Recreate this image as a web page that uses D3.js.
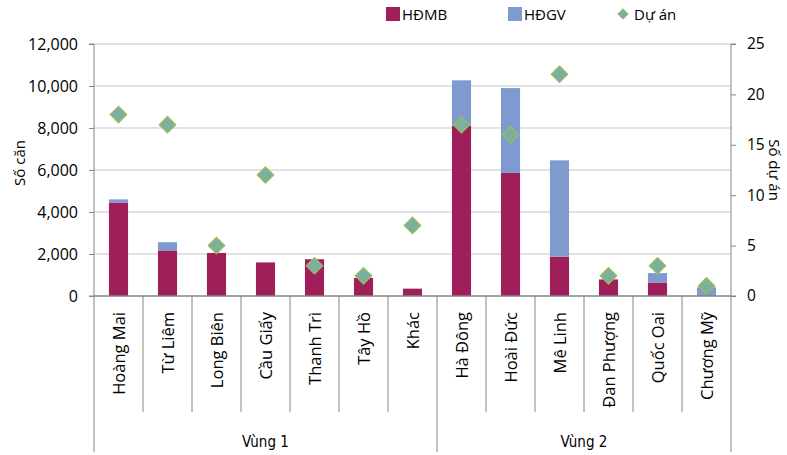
<!DOCTYPE html>
<html>
<head>
<meta charset="utf-8">
<script src="https://cdn.jsdelivr.net/npm/d3@7"></script>
<style>
  body { margin: 0; background: #fff; }
  svg { display: block; font-family: "Open Sans", "Noto Sans", sans-serif; }
</style>
</head>
<body>
<div class="container"></div>
<script>
// data
const districts = ["Hoàng Mai", "Từ Liêm", "Long Biên", "Cầu Giấy", "Thanh Trì", "Tây Hồ", "Khác",
                   "Hà Đông", "Hoài Đức", "Mê Linh", "Đan Phượng", "Quốc Oai", "Chương Mỹ"];
const hdmb = [4450, 2170, 2050, 1600, 1750, 860, 350, 8110, 5860, 1870, 790, 640, 0];
const hdgv = [150, 390, 0, 0, 0, 0, 0, 2160, 4040, 4590, 0, 450, 410];
const duAn = [18, 17, 5, 12, 3, 2, 7, 17, 16, 22, 2, 3, 1];
const regions = [{ name: "Vùng 1", from: 0, to: 6 }, { name: "Vùng 2", from: 7, to: 12 }];
const leftTicks = [0, 2000, 4000, 6000, 8000, 10000, 12000];
const rightTicks = [0, 5, 10, 15, 20, 25];

const w = 787, h = 455;
const padL = 94, padR = 731, padT = 44, padB = 296;
const colMB = "#9E1F5A", colGV = "#7F9ACE", colDiaFill = "#7BAFA0", colDiaStroke = "#9BBB59";
const axisCol = "#868686";

const svg = d3.select(".container").append("svg")
  .attr("width", w).attr("height", h);

const x = d3.scaleBand().domain(districts).range([padL, padR]).padding(0);
const yL = d3.scaleLinear().domain([0, 12000]).range([padB, padT]);
const yR = d3.scaleLinear().domain([0, 25]).range([padB, padT]);
const barW = x.bandwidth() * 0.39;

// gridlines
svg.append("g").selectAll("line").data(leftTicks.slice(1)).enter().append("line")
  .attr("x1", padL).attr("x2", padR)
  .attr("y1", d => yL(d)).attr("y2", d => yL(d))
  .attr("stroke", "#D9D9D9").attr("stroke-width", 1.3);

// left axis
const gL = svg.append("g").attr("transform", `translate(${padL},0)`)
  .call(d3.axisLeft(yL).tickValues(leftTicks).tickFormat(d3.format(",")).tickSize(5).tickPadding(11));
gL.select(".domain").attr("stroke", axisCol).attr("d", `M-5,${padT}H0V${padB}H-5`);
gL.selectAll(".tick line").attr("stroke", axisCol);
gL.selectAll(".tick text").attr("font-size", 16).attr("fill", "#000").attr("font-family", "Open Sans, sans-serif");

// right axis
const gR = svg.append("g").attr("transform", `translate(${padR},0)`)
  .call(d3.axisRight(yR).tickValues(rightTicks).tickSize(5).tickPadding(11));
gR.select(".domain").attr("stroke", axisCol).attr("d", `M5,${padT}H0V${padB}H5`);
gR.selectAll(".tick line").attr("stroke", axisCol);
gR.selectAll(".tick text").attr("font-size", 15.5).attr("fill", "#000").attr("font-family", "Open Sans, sans-serif");

// bars
const bars = svg.append("g");
bars.selectAll("rect.mb").data(districts).enter().append("rect")
  .attr("class", "mb")
  .attr("x", d => x(d) + (x.bandwidth() - barW) / 2)
  .attr("width", barW)
  .attr("y", (d, i) => yL(hdmb[i]))
  .attr("height", (d, i) => yL(0) - yL(hdmb[i]))
  .attr("fill", colMB);
bars.selectAll("rect.gv").data(districts).enter().append("rect")
  .attr("class", "gv")
  .attr("x", d => x(d) + (x.bandwidth() - barW) / 2)
  .attr("width", barW)
  .attr("y", (d, i) => yL(hdmb[i] + hdgv[i]))
  .attr("height", (d, i) => yL(hdmb[i]) - yL(hdmb[i] + hdgv[i]))
  .attr("fill", colGV);

// x axis line + category separators
const sep = d3.range(districts.length + 1).map(i => padL + i * x.step());
svg.append("line").attr("x1", padL).attr("x2", padR).attr("y1", padB).attr("y2", padB)
  .attr("stroke", axisCol).attr("stroke-width", 1.3);
const longSep = [0, 7, 13];
svg.append("g").selectAll("line").data(sep).enter().append("line")
  .attr("x1", d => d).attr("x2", d => d)
  .attr("y1", padB)
  .attr("y2", (d, i) => longSep.includes(i) ? 452 : 412)
  .attr("stroke", axisCol).attr("stroke-width", 1);

// diamonds
const dia = d3.symbol().type(d3.symbolDiamond2).size(170);
svg.append("g").selectAll("path").data(districts).enter().append("path")
  .attr("d", dia)
  .attr("transform", (d, i) => `translate(${x(d) + x.bandwidth() / 2},${yR(duAn[i])})`)
  .attr("fill", colDiaFill).attr("stroke", colDiaStroke).attr("stroke-width", 1.3);

// category labels
svg.append("g").selectAll("text").data(districts).enter().append("text")
  .attr("transform", d => `translate(${x(d) + x.bandwidth() / 2 + 6},312) rotate(-90)`)
  .attr("text-anchor", "end")
  .attr("font-size", 16.5)
  .text(d => d);

// region labels
svg.append("g").selectAll("text").data(regions).enter().append("text")
  .attr("x", d => (sep[d.from] + sep[d.to + 1]) / 2)
  .attr("y", 447)
  .attr("text-anchor", "middle")
  .attr("font-size", 15)
  .attr("font-family", "DejaVu Sans Condensed, sans-serif")
  .text(d => d.name);

// axis titles
svg.append("text").attr("transform", "translate(25,163) rotate(-90)")
  .attr("text-anchor", "middle").attr("font-size", 15).text("Số căn");
svg.append("text").attr("transform", "translate(769,170) rotate(90)")
  .attr("text-anchor", "middle").attr("font-size", 15).text("Số dự án");

// legend
const lg = svg.append("g");
lg.append("rect").attr("x", 386).attr("y", 7).attr("width", 14).attr("height", 14).attr("fill", colMB);
lg.append("text").attr("x", 402).attr("y", 20).attr("font-size", 15).text("HĐMB");
lg.append("rect").attr("x", 508).attr("y", 7).attr("width", 14).attr("height", 14).attr("fill", colGV);
lg.append("text").attr("x", 524).attr("y", 20).attr("font-size", 15).text("HĐGV");
lg.append("path").attr("d", d3.symbol().type(d3.symbolDiamond2).size(70))
  .attr("transform", "translate(623,14)")
  .attr("fill", colDiaFill).attr("stroke", colDiaStroke).attr("stroke-width", 1);
lg.append("text").attr("x", 634).attr("y", 20).attr("font-size", 15).text("Dự án");
</script>
</body>
</html>
